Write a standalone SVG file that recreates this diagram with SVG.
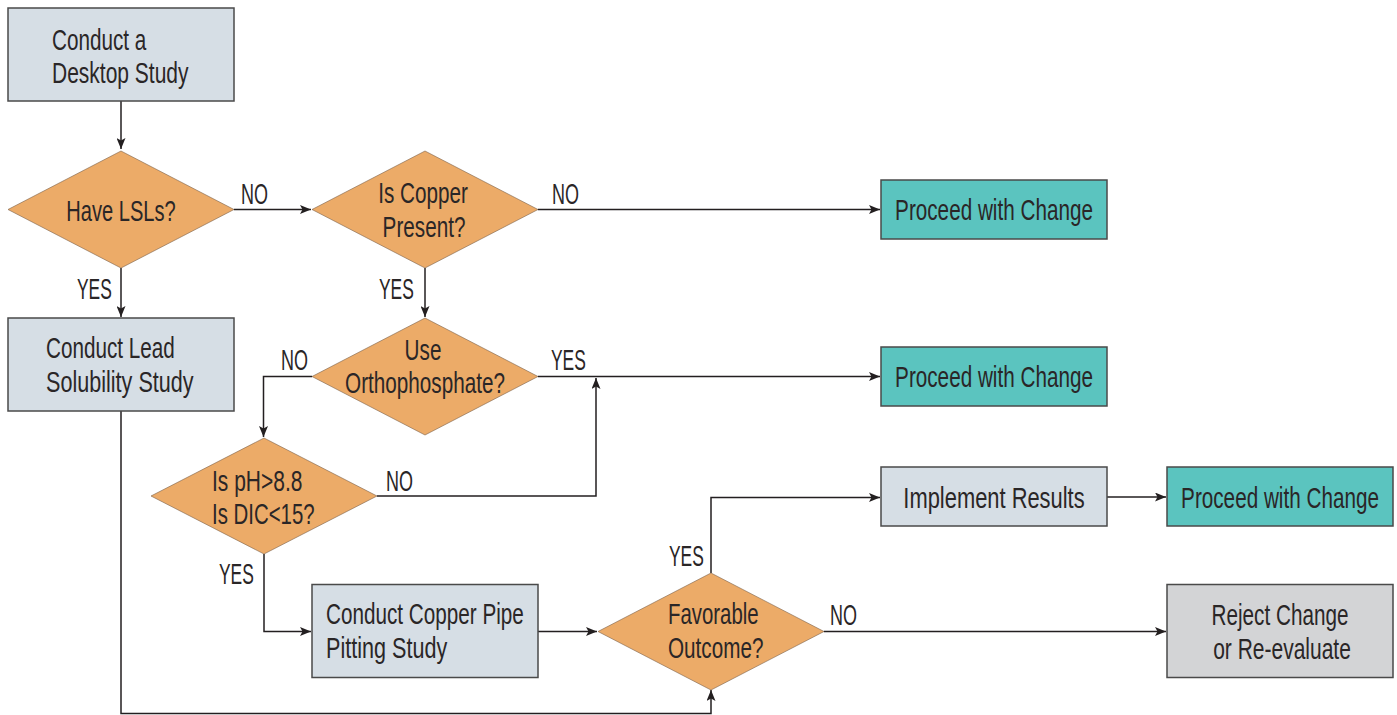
<svg xmlns="http://www.w3.org/2000/svg" width="1397" height="715" viewBox="0 0 1397 715">
<defs>
<marker id="ah" viewBox="0 0 11 9" refX="11" refY="4.5" markerWidth="11" markerHeight="9" markerUnits="userSpaceOnUse" orient="auto">
<path d="M0,0 L11,4.5 L0,9 L2.5,4.5 Z" fill="#231f20"/>
</marker>
<style>
.box{fill:#d6dee5;stroke:#4a4a4a;stroke-width:1.5}
.teal{fill:#5bc4bf;stroke:#4a4a4a;stroke-width:1.5}
.gray{fill:#d3d4d6;stroke:#4a4a4a;stroke-width:1.5}
.dia{fill:#ecab68;stroke:#7a6048;stroke-width:0.6}
text{font-family:"Liberation Sans",Arial,sans-serif;font-size:30px;fill:#2a2627}
.c{text-anchor:middle}
.ln{fill:none;stroke:#231f20;stroke-width:1.5}
</style>
</defs>
<rect width="1397" height="715" fill="#ffffff"/>
<g id="connectors">
<path class="ln" d="M121,101 V149" marker-end="url(#ah)"/>
<path class="ln" d="M234,209.5 H311" marker-end="url(#ah)"/>
<path class="ln" d="M538,209.5 H880" marker-end="url(#ah)"/>
<path class="ln" d="M121,268 V317" marker-end="url(#ah)"/>
<path class="ln" d="M425,268 V317" marker-end="url(#ah)"/>
<path class="ln" d="M312,376.5 H263.5 V437" marker-end="url(#ah)"/>
<path class="ln" d="M538,376.5 H880" marker-end="url(#ah)"/>
<path class="ln" d="M377,496 H596 V378" marker-end="url(#ah)"/>
<path class="ln" d="M264,554 V631.5 H311" marker-end="url(#ah)"/>
<path class="ln" d="M538,631.5 H597" marker-end="url(#ah)"/>
<path class="ln" d="M711,573 V497.5 H880" marker-end="url(#ah)"/>
<path class="ln" d="M1107,497 H1166" marker-end="url(#ah)"/>
<path class="ln" d="M824,631.5 H1166" marker-end="url(#ah)"/>
<path class="ln" d="M121,411 V713.5 H711 V690" marker-end="url(#ah)"/>
<text transform="translate(241,204) scale(0.6,1)">NO</text>
<text transform="translate(552,204) scale(0.6,1)">NO</text>
<text transform="translate(77,299) scale(0.58,1)">YES</text>
<text transform="translate(379,299) scale(0.58,1)">YES</text>
<text transform="translate(281,370) scale(0.6,1)">NO</text>
<text transform="translate(551,370) scale(0.58,1)">YES</text>
<text transform="translate(386,491) scale(0.6,1)">NO</text>
<text transform="translate(219,584) scale(0.58,1)">YES</text>
<text transform="translate(669,566) scale(0.58,1)">YES</text>
<text transform="translate(830,625) scale(0.6,1)">NO</text>
</g>
<g id="desktop">
<rect class="box" x="8" y="8" width="226" height="93"/>
<text transform="translate(52,50) scale(0.69,1)">Conduct a</text>
<text transform="translate(52,83) scale(0.7,1)">Desktop Study</text>
</g>
<g id="have-lsls">
<polygon class="dia" points="121,151 234,209.5 121,268 8,209.5"/>
<text class="c" transform="translate(121,221) scale(0.67,1)">Have LSLs?</text>
</g>
<g id="copper-present">
<polygon class="dia" points="425,151 538,209.5 425,268 312,209.5"/>
<text class="c" transform="translate(423,203) scale(0.69,1)">Is Copper</text>
<text class="c" transform="translate(424,237) scale(0.69,1)">Present?</text>
</g>
<g id="proceed1">
<rect class="teal" x="881" y="180" width="226" height="59"/>
<text class="c" transform="translate(994,220) scale(0.69,1)">Proceed with Change</text>
</g>
<g id="lead-solubility">
<rect class="box" x="8" y="318" width="226" height="93"/>
<text transform="translate(46,358) scale(0.69,1)">Conduct Lead</text>
<text transform="translate(46,392) scale(0.72,1)">Solubility Study</text>
</g>
<g id="orthophosphate">
<polygon class="dia" points="425,318 538,376.5 425,435 312,376.5"/>
<text class="c" transform="translate(423,360) scale(0.69,1)">Use</text>
<text class="c" transform="translate(425,393) scale(0.69,1)">Orthophosphate?</text>
</g>
<g id="proceed2">
<rect class="teal" x="881" y="347" width="226" height="59"/>
<text class="c" transform="translate(994,387) scale(0.69,1)">Proceed with Change</text>
</g>
<g id="ph-dic">
<polygon class="dia" points="264,438 377,496 264,554 151,496"/>
<text transform="translate(212,491) scale(0.7,1)">Is pH&gt;8.8</text>
<text transform="translate(212,524) scale(0.68,1)">Is DIC&lt;15?</text>
</g>
<g id="copper-pitting">
<rect class="box" x="312" y="584.5" width="226" height="93"/>
<text transform="translate(326,624) scale(0.69,1)">Conduct Copper Pipe</text>
<text transform="translate(326,658) scale(0.72,1)">Pitting Study</text>
</g>
<g id="favorable">
<polygon class="dia" points="711,573 824,631.5 711,690 598,631.5"/>
<text transform="translate(668,624) scale(0.68,1)">Favorable</text>
<text transform="translate(668,658) scale(0.69,1)">Outcome?</text>
</g>
<g id="implement">
<rect class="box" x="881" y="467" width="226" height="59"/>
<text class="c" transform="translate(994,508) scale(0.73,1)">Implement Results</text>
</g>
<g id="proceed3">
<rect class="teal" x="1167" y="467" width="226" height="59"/>
<text class="c" transform="translate(1280,508) scale(0.69,1)">Proceed with Change</text>
</g>
<g id="reject">
<rect class="gray" x="1167" y="584.5" width="226" height="93"/>
<text class="c" transform="translate(1280,625) scale(0.69,1)">Reject Change</text>
<text class="c" transform="translate(1282,659) scale(0.7,1)">or Re-evaluate</text>
</g>
</svg>
